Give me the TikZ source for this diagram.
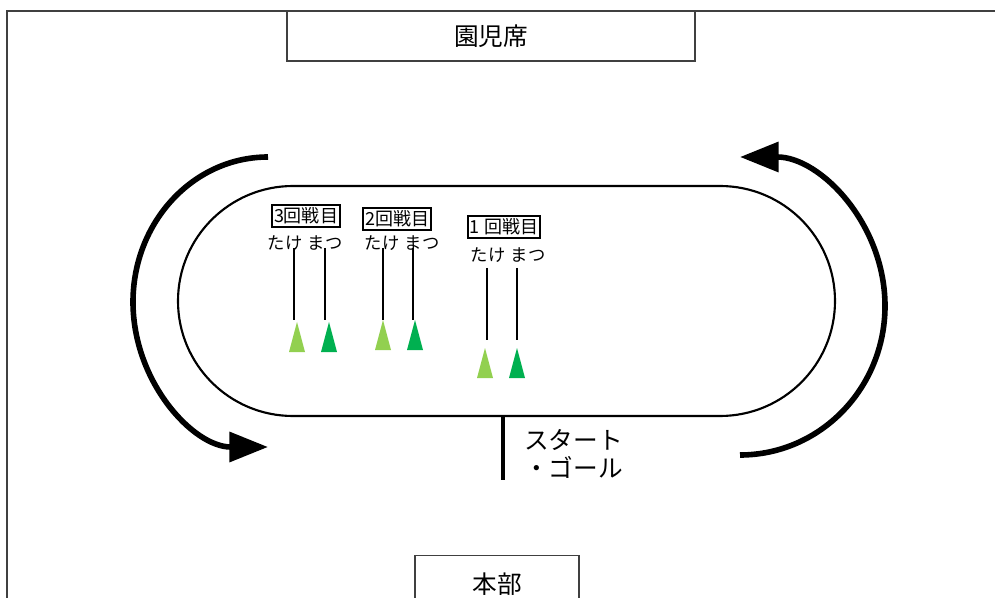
\documentclass[tikz,border=0pt]{standalone}
\usepackage{fontspec}
\setmainfont{Noto Sans CJK JP}
\usetikzlibrary{arrows.meta}
\definecolor{lgreen}{HTML}{92D050}
\definecolor{dgreen}{HTML}{00B050}
\tikzset{
  frame/.style={draw=black!75, line width=0.9pt},
  place/.style={draw=black!75, line width=1pt, fill=white, inner sep=0pt,
    font=\fontsize{18.5}{20}\selectfont},
  track/.style={draw=black, line width=1.6pt},
  roundarrow/.style={line width=4.2pt, -{Triangle[length=29pt,width=22pt]}},
  lbl/.style={draw=black, line width=1.4pt, inner xsep=1.5pt, inner ysep=0.5pt,
    minimum height=16.5pt, font=\fontsize{13.5}{15}\selectfont},
  who/.style={inner sep=0pt, font=\fontsize{13}{15}\selectfont},
  pole/.style={line width=1.4pt},
  runner/.pic={\path[pic actions] (0,0) -- (8,30) -- (-8,30) -- cycle;},
  startline/.style={line width=2.3pt},
  sgtext/.style={align=left, inner sep=0pt, font=\fontsize{18.5}{20.5}\selectfont}
}
\begin{document}
\begin{tikzpicture}[x=0.75pt,y=-0.75pt]
\useasboundingbox (0,0) rectangle (995,598);
% outer frame
\coordinate (fbl) at (7,598);
\coordinate (ftl) at (7,11);
\coordinate (ftr) at (995,11);
\draw[frame] (fbl) -- (ftl) -- (ftr);
% stands
\node[place, minimum width=306pt, minimum height=37.5pt] (enji) at (491,36) {園児席};
\node[place, anchor=north, minimum width=123pt, minimum height=43pt] (honbu) at (497,555) {本部};
% track
\draw[track] (293,186) -- (720,186) arc[start angle=-90, end angle=90, radius=115]
  -- (293,416) arc[start angle=90, end angle=270, radius=115] -- cycle;
% direction arrows
\draw[roundarrow] (268,157) arc[start angle=270, end angle=90, x radius=135, y radius=145];
\draw[roundarrow] (740,455) arc[start angle=90, end angle=-90, x radius=145, y radius=149];
% start / goal
\coordinate (sgtop) at (503,415);
\coordinate (sgbot) at (503,480);
\draw[startline] (sgtop) -- (sgbot);
\node[sgtext, anchor=west] (sg) at (524,454) {スタート\\・ゴール};
% round labels
\node[lbl] (r3) at (306,216) {3回戦目};
\node[lbl] (r2) at (397,219) {2回戦目};
\node[lbl] (r1) at (504,227) {1 回戦目};
% team names
\node[who] (t3) at (285,243) {たけ};
\node[who] (m3) at (325,243) {まつ};
\node[who] (t2) at (382,243) {たけ};
\node[who] (m2) at (422,243) {まつ};
\node[who] (t1) at (488,255) {たけ};
\node[who] (m1) at (528,255) {まつ};
% poles
\coordinate (t3a) at (294,248); \coordinate (t3b) at (294,320);
\coordinate (m3a) at (325,248); \coordinate (m3b) at (325,320);
\coordinate (t2a) at (383,248); \coordinate (t2b) at (383,320);
\coordinate (m2a) at (413,248); \coordinate (m2b) at (413,320);
\coordinate (t1a) at (487,268); \coordinate (t1b) at (487,340);
\coordinate (m1a) at (517,268); \coordinate (m1b) at (517,340);
\draw[pole] (t3a) -- (t3b);
\draw[pole] (m3a) -- (m3b);
\draw[pole] (t2a) -- (t2b);
\draw[pole] (m2a) -- (m2b);
\draw[pole] (t1a) -- (t1b);
\draw[pole] (m1a) -- (m1b);
% runners
\pic[fill=lgreen] at (297,322) {runner};
\pic[fill=dgreen] at (329,322) {runner};
\pic[fill=lgreen] at (383,320) {runner};
\pic[fill=dgreen] at (415,320) {runner};
\pic[fill=lgreen] at (485,348) {runner};
\pic[fill=dgreen] at (517,348) {runner};
\end{tikzpicture}
\end{document}
